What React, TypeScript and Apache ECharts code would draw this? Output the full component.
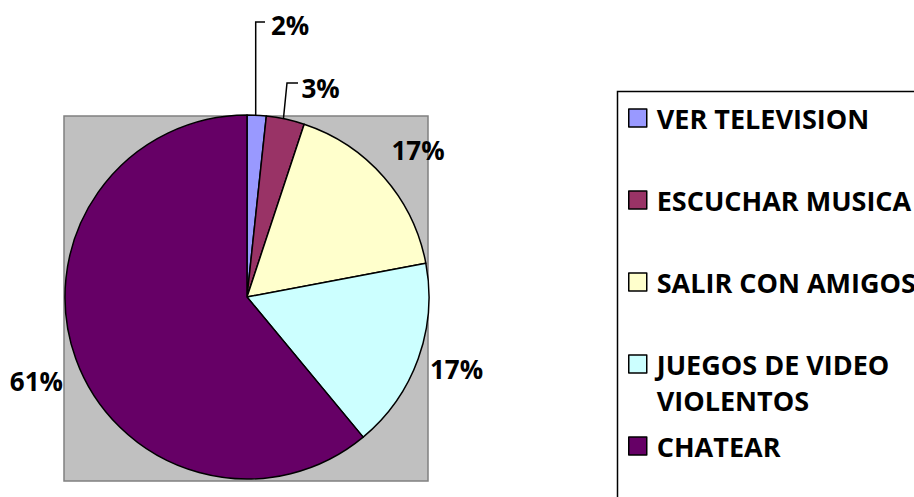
import React, { useEffect, useRef } from "react";
import * as echarts from "echarts";

// Data
const categories = [
  "VER TELEVISION",
  "ESCUCHAR MUSICA",
  "SALIR CON AMIGOS",
  "JUEGOS DE VIDEO\nVIOLENTOS",
  "CHATEAR",
];
const counts = [1, 2, 10, 10, 36];
const colors = ["#9999FF", "#993366", "#FFFFCC", "#CCFFFF", "#660066"];

// Layout (not data)
const FONT = "'Open Sans', 'Noto Sans', sans-serif";
const legendTops = [100, 182, 264, 310, 428];
const labelPlacement = [
  { x: 271, y: 25, align: "left", line: [[255.7, 116], [255.7, 22], [265, 22]] },
  { x: 301.5, y: 88, align: "left", line: [[283.5, 118], [287, 83], [298, 83]] },
  { x: 391.5, y: 150, align: "left", line: null },
  { x: 430, y: 369, align: "left", line: null },
  { x: 63, y: 381, align: "right", line: null },
];

export default function App() {
  const ref = useRef<HTMLDivElement>(null);
  useEffect(() => {
    if (!ref.current) return;
    const chart = echarts.init(ref.current, undefined, { renderer: "svg" });
    const total = counts.reduce((a, b) => a + b, 0);
    chart.setOption({
      animation: false,
      backgroundColor: "#ffffff",
      graphic: [
        {
          type: "rect",
          z: -10,
          shape: { x: 64, y: 116, width: 364, height: 365 },
          style: { fill: "#C0C0C0", stroke: "#808080", lineWidth: 1.5 },
        },
        {
          type: "rect",
          z: -10,
          shape: { x: 617.5, y: 91.5, width: 400, height: 500 },
          style: { fill: "#ffffff", stroke: "#000000", lineWidth: 1.5 },
        },
      ],
      legend: categories.map((c, i) => ({
        data: [c],
        orient: "vertical",
        left: 628,
        top: legendTops[i],
        padding: 0,
        icon: "rect",
        itemWidth: 18,
        itemHeight: 18,
        selectedMode: false,
        formatter: (name: string) => (name.indexOf("\n") >= 0 ? "\u00A0\n" + name : name),
        itemStyle: { borderColor: "#000", borderWidth: 1.5 },
        textStyle: {
          fontFamily: FONT,
          fontWeight: "bold",
          fontSize: 27,
          color: "#000",
          lineHeight: 36,
          padding: [0, 0, 0, 5],
        },
      })),
      series: [
        {
          type: "pie",
          center: [247, 297],
          radius: 182,
          startAngle: 90,
          clockwise: true,
          avoidLabelOverlap: false,
          itemStyle: { borderColor: "#000", borderWidth: 1.5 },
          emphasis: { disabled: true },
          label: {
            show: true,
            position: "outside",
            fontFamily: FONT,
            fontWeight: "bold",
            fontSize: 26,
            color: "#000",
            formatter: (p: any) => Math.round((p.value / total) * 100) + "%",
          },
          labelLine: { show: true, lineStyle: { color: "#000", width: 1.5 } },
          labelLayout: (params: any) => {
            const pl = labelPlacement[params.dataIndex];
            const r: any = {
              x: pl.x,
              y: pl.y,
              align: pl.align,
              verticalAlign: "middle",
              hideOverlap: false,
            };
            if (pl.line) r.labelLinePoints = pl.line;
            return r;
          },
          data: categories.map((c, i) => ({
            name: c,
            value: counts[i],
            itemStyle: { color: colors[i] },
            labelLine: { show: !!labelPlacement[i].line },
          })),
        },
      ],
    });
    return () => chart.dispose();
  }, []);
  return (
    <div
      ref={ref}
      style={{ position: "fixed", left: 0, top: 0, width: 914, height: 497 }}
    />
  );
}
